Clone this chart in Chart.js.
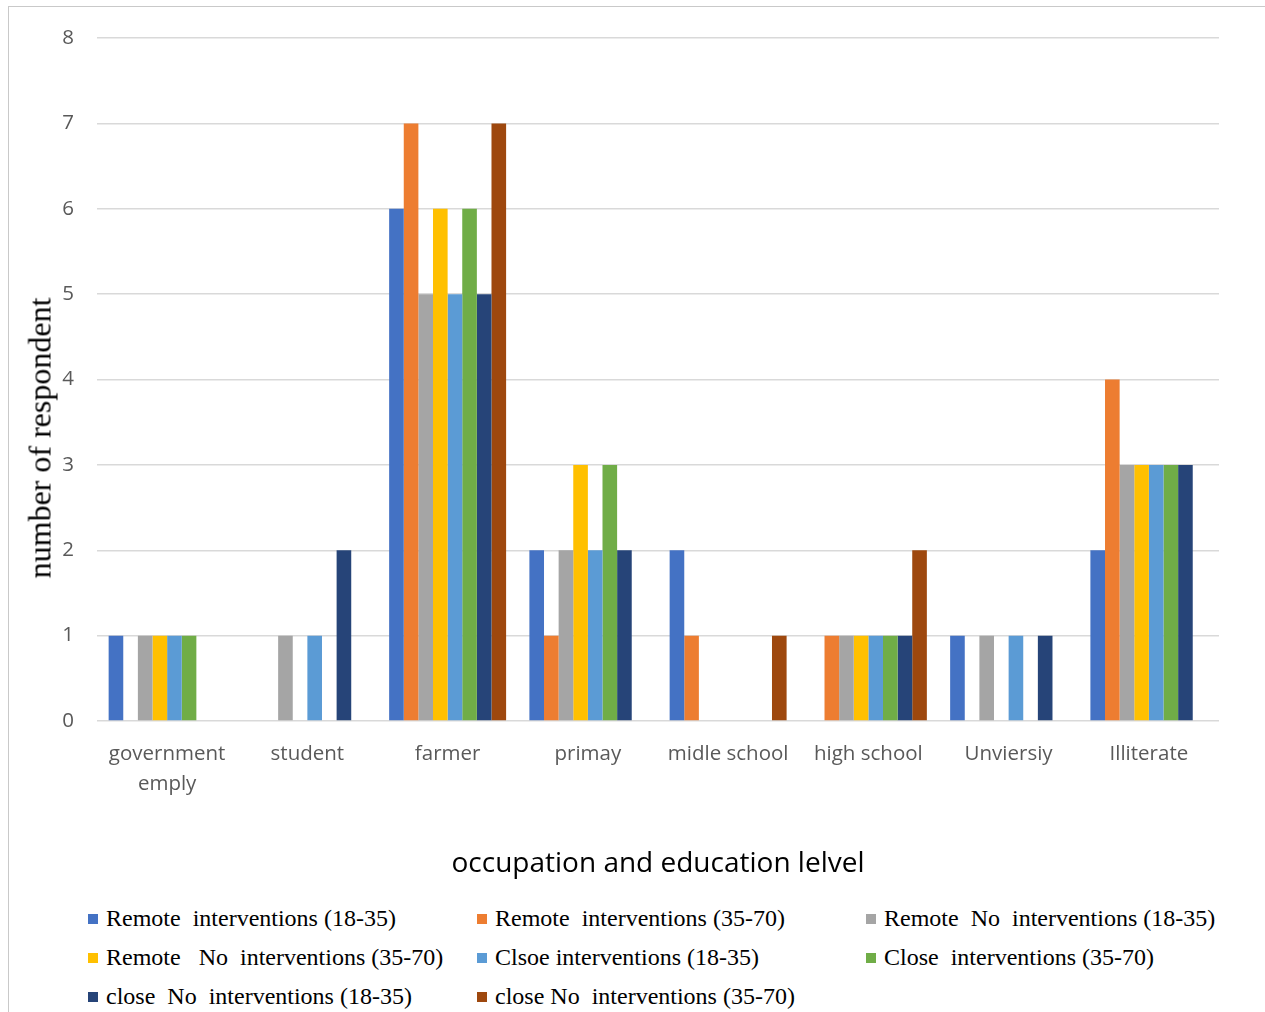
<!DOCTYPE html>
<html>
<head>
<meta charset="utf-8">
<script src="https://cdn.jsdelivr.net/npm/chart.js@4.4.1/dist/chart.umd.min.js"></script>
<style>
  html, body { margin: 0; padding: 0; background: #fff; }
  #frame { position: absolute; left: 8px; top: 6px; width: 1300px; height: 1100px; border: 1px solid #c9c9c9; }
  #wrap { position: absolute; left: 0; top: 0; width: 1265px; height: 890px; }
  #yTitle {
    position: absolute; left: 40px; top: 438px;
    transform: translate(-50%, -50%) rotate(-90deg);
    font-family: "Liberation Serif", "Times New Roman", serif; font-size: 32px; color: #000;
    white-space: nowrap;
  }
  #legend { position: absolute; left: 88px; top: 905px; width: 1170px; }
  .item {
    position: absolute; white-space: pre;
    font-family: "Liberation Serif", "Times New Roman", serif; font-size: 24px; color: #000;
  }
  .item .box { display: inline-block; width: 10px; height: 10px; margin-right: 8px; vertical-align: 2px; }
</style>
</head>
<body>
<div id="frame"></div>
<div id="wrap"><canvas id="chartBar" width="1265" height="890"></canvas></div>
<div id="yTitle">number of respondent</div>
<div id="legend"></div>

<script>
/* ---------- data ---------- */
const categories = [
  ["government", "emply"], "student", "farmer", "primay",
  "midle school", "high school", "Unviersiy", "Illiterate"
];

const seriesNames = [
  "Remote  interventions (18-35)",
  "Remote  interventions (35-70)",
  "Remote  No  interventions (18-35)",
  "Remote   No  interventions (35-70)",
  "Clsoe interventions (18-35)",
  "Close  interventions (35-70)",
  "close  No  interventions (18-35)",
  "close No  interventions (35-70)"
];

const seriesColors = ["#4472C4", "#ED7D31", "#A5A5A5", "#FFC000", "#5B9BD5", "#70AD47", "#264478", "#9E480E"];

const remoteInt1835   = [1, 0, 6, 2, 2, 0, 1, 2];
const remoteInt3570   = [0, 0, 7, 1, 1, 1, 0, 4];
const remoteNoInt1835 = [1, 1, 5, 2, 0, 1, 1, 3];
const remoteNoInt3570 = [1, 0, 6, 3, 0, 1, 0, 3];
const closeInt1835    = [1, 1, 5, 2, 0, 1, 1, 3];
const closeInt3570    = [1, 0, 6, 3, 0, 1, 0, 3];
const closeNoInt1835  = [0, 2, 5, 2, 0, 1, 1, 3];
const closeNoInt3570  = [0, 0, 7, 0, 1, 2, 0, 0];

const seriesValues = [
  remoteInt1835, remoteInt3570, remoteNoInt1835, remoteNoInt3570,
  closeInt1835, closeInt3570, closeNoInt1835, closeNoInt3570
];

const yTicks = [0, 1, 2, 3, 4, 5, 6, 7, 8];

/* ---------- chart ---------- */
const datasets = seriesNames.map((name, i) => ({
  label: name,
  data: seriesValues[i],
  backgroundColor: seriesColors[i],
  borderWidth: 0,
  categoryPercentage: 0.834,
  barPercentage: 1.0
}));

const chart = new Chart(document.getElementById("chartBar").getContext("2d"), {
  type: "bar",
  data: { labels: categories, datasets },
  options: {
    responsive: false,
    animation: false,
    layout: { padding: { left: 0, right: 46, top: 38, bottom: 0 } },
    plugins: { legend: { display: false }, tooltip: { enabled: false } },
    scales: {
      x: {
        grid: { display: false },
        border: { display: false },
        ticks: {
          color: "#595959",
          padding: 11,
          font: { family: "'Open Sans', sans-serif", size: 20.5, lineHeight: 1.42 },
          maxRotation: 0, autoSkip: false
        },
        title: {
          display: true,
          text: "occupation and education lelvel",
          color: "#000",
          font: { family: "'Open Sans', sans-serif", size: 28 },
          padding: { bottom: 9 }
        },
        afterFit: s => { s.height = 169; }
      },
      y: {
        min: 0, max: 8,
        afterBuildTicks: s => { s.ticks = yTicks.map(v => ({ value: v })); },
        grid: { color: "#d9d9d9", lineWidth: 1.5, drawTicks: false },
        border: { display: false },
        ticks: {
          color: "#595959",
          padding: 23,
          font: { family: "'Open Sans', sans-serif", size: 20.5 }
        },
        afterFit: s => { s.width = 97; }
      }
    }
  }
});

/* ---------- legend, three columns ---------- */
const legendEl = document.getElementById("legend");
const colX = [0, 389, 778];
const rowY = [0, 39, 78];
chart.data.datasets.forEach((ds, i) => {
  const it = document.createElement("div");
  it.className = "item";
  it.style.left = colX[i % 3] + "px";
  it.style.top = rowY[Math.floor(i / 3)] + "px";
  const box = document.createElement("span");
  box.className = "box";
  box.style.background = ds.backgroundColor;
  it.appendChild(box);
  it.appendChild(document.createTextNode(ds.label));
  legendEl.appendChild(it);
});
</script>
</body>
</html>
